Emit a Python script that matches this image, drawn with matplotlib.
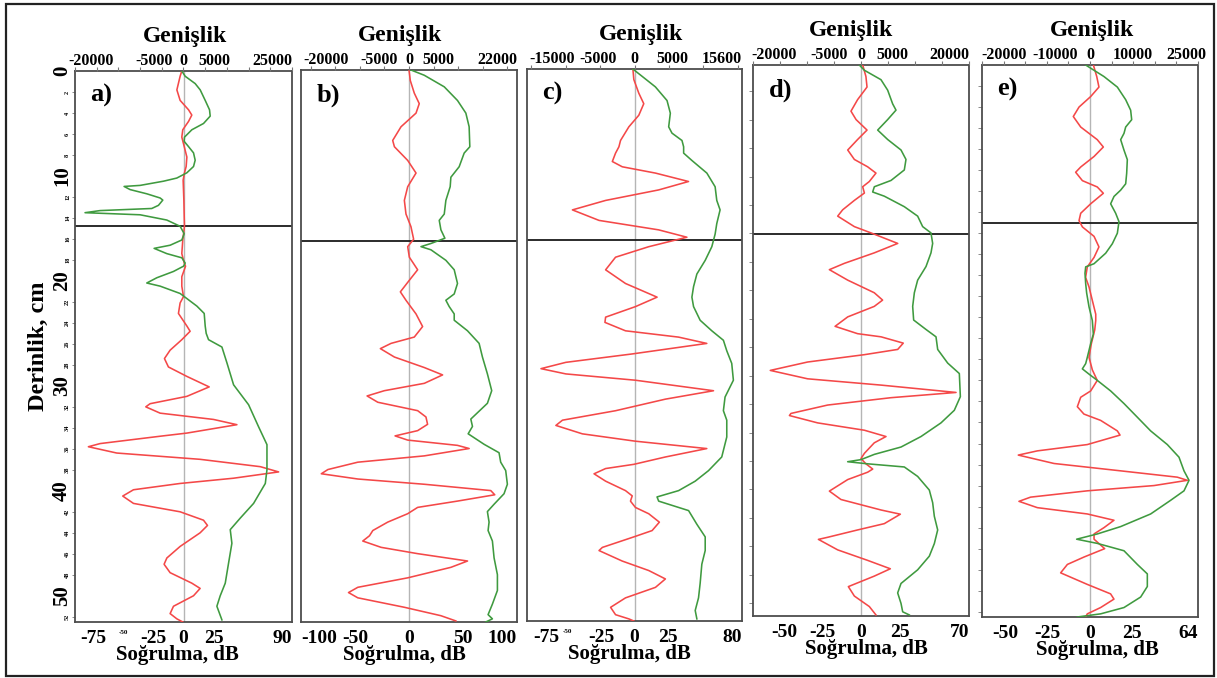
import matplotlib
matplotlib.use("Agg")
import matplotlib.pyplot as plt
import numpy as np
from matplotlib.patches import Rectangle
from matplotlib.transforms import blended_transform_factory, offset_copy

plt.rcParams['font.family'] = ['Liberation Serif', 'DejaVu Serif']
plt.rcParams['font.weight'] = 'bold'

# ---------------- data (depth cm, value) ----------------
panel_letters = ['a)', 'b)', 'c)', 'd)', 'e)']
db_limits = [90, 100, 80, 70, 64]
amp_limits = [25000, 22000, 15600, 20000, 25000]
db_ticks = [[-75, -50, -25, 0, 25, 90], [-100, -50, 0, 50, 100],
            [-75, -50, -25, 0, 25, 80], [-50, -25, 0, 25, 70], [-50, -25, 0, 25, 64]]
tiny_db_ticks = [[-50], [], [-50], [], []]
amp_ticks = [[-20000, -5000, 0, 5000, 25000], [-20000, -5000, 0, 5000, 22000],
             [-15000, -5000, 0, 5000, 15600], [-20000, -5000, 0, 5000, 20000],
             [-20000, -10000, 0, 10000, 25000]]
boundary_depths = [14.8, 16.3, 16.3, 16.1, 15.0]
depth_major = [0, 10, 20, 30, 40, 50]
depth_minor = [2, 4, 6, 8, 12, 14, 16, 18, 22, 24, 26, 28, 32, 34, 36, 38, 42, 44, 46, 48, 52]

a_red = [(0, -1.4), (0.5, -2.8), (1.8, -5.5), (2.8, -2.8), (3.7, 4.2), (4.2, 6.9), (4.8, 4.2), (5.6, -0.6),
         (6.3, -1.4), (7.2, 0.6), (8.2, 2.8), (9.1, 2.2), (9.7, 0.8), (10.4, -0.3), (12.3, 0.3), (13.9, 0.6),
         (14.8, 0.8), (16.1, -0.6), (17.4, -1.4), (18.3, 0.6), (18.6, 1.7), (19.6, -1.4), (20.5, -1.4),
         (21.5, 0.0), (22.1, -2.8), (23.1, -4.2), (24.3, 2.8), (24.8, 5.5), (25.6, -1.4), (26.6, -11.1),
         (27.4, -15.8), (28.2, -12.5), (29.1, 2.8), (30.1, 21.3), (31.0, 2.8), (31.7, -27.7), (32.0, -31.3),
         (32.6, -19.4), (33.2, 24.9), (33.7, 44.3), (34.5, 2.8), (34.8, -19.4), (35.5, -69.2), (35.8, -78.9),
         (36.4, -55.4), (37.0, 13.8), (37.7, 63.7), (38.2, 78.9), (38.8, 41.5), (39.3, -2.8), (39.9, -41.5),
         (40.5, -50.4), (41.2, -41.5), (42.0, -2.8), (42.8, 16.6), (43.3, 19.9), (44.0, 13.8), (45.3, -2.8),
         (46.4, -13.8), (47.0, -16.1), (47.8, -11.1), (48.8, 6.9), (49.3, 13.8), (50.0, 8.3), (51.0, -8.3),
         (51.7, -11.1), (52.2, -5.5), (52.5, -0.6)]
a_green = [(0, -385), (0.5, 385), (1.2, 2690), (1.8, 3850), (2.8, 5000), (3.7, 6000), (4.3, 6150), (5.0, 4615),
           (5.6, 1920), (6.3, 230), (6.7, 150), (7.2, 1150), (7.8, 2310), (8.5, 2690), (9.1, 2310), (9.7, 770),
           (10.2, -1540), (10.5, -4615), (10.9, -10000), (11.0, -13690), (11.3, -12300), (11.7, -8460),
           (12.1, -5380), (12.3, -4770), (12.8, -5770), (13.1, -7310), (13.3, -19230), (13.5, -22690),
           (13.7, -10000), (14.2, -3850), (14.8, -770), (15.5, 150), (16.1, -385), (16.6, -3080), (16.9, -6770),
           (17.4, -3850), (17.8, -385), (18.3, 385), (18.6, 0), (19.1, -2310), (19.7, -6150), (20.2, -8460),
           (20.5, -5380), (21.2, -770), (21.8, 1150), (22.4, 3080), (23.1, 4770), (24.3, 5000), (25.0, 5230),
           (25.6, 5770), (26.3, 8850), (27.8, 10000), (29.9, 11540), (31.8, 15000), (33.9, 17300),
           (35.6, 19230), (36.7, 19230), (38.0, 19230), (39.3, 18850), (41.2, 16150), (42.6, 13080),
           (43.7, 10770), (45.0, 11150), (46.9, 10380), (48.8, 9620), (50.0, 8460), (51.0, 7690), (52.3, 8850)]

b_red = [(0, 0.0), (1.0, 1.2), (2.2, 4.9), (3.2, 9.5), (4.1, 6.5), (5.4, -7.4), (6.7, -15.1), (7.3, -13.5),
         (8.6, -1.2), (9.8, 6.5), (11.1, -1.2), (12.4, -4.3), (13.7, -2.8), (14.9, 1.8), (16.1, 4.3),
         (16.8, -1.2), (17.8, 0.3), (19.0, 8.0), (20.0, 0.3), (21.1, -8.0), (21.9, -2.8), (23.2, 6.5),
         (24.4, 12.6), (25.4, 4.9), (26.0, -16.6), (26.5, -26.5), (27.3, -13.5), (28.3, 14.2), (29.0, 31.1),
         (29.8, 14.2), (30.5, -22.8), (31.0, -38.8), (31.6, -28.9), (32.4, 8.0), (33.0, 15.7), (33.7, 17.2),
         (34.3, 8.0), (34.8, -12.9), (35.2, -1.2), (35.7, 44.9), (36.0, 55.7), (36.7, 14.2), (37.3, -47.4),
         (38.0, -75.1), (38.4, -81.2), (38.9, -47.4), (39.4, 14.2), (40.0, 75.7), (40.4, 79.4), (41.0, 44.9),
         (41.6, 8.0), (42.2, -1.2), (43.0, -19.7), (43.8, -33.5), (44.3, -36.6), (44.8, -42.8), (45.4, -25.8),
         (46.0, 8.0), (46.7, 54.2), (47.3, 38.8), (48.3, -1.2), (49.2, -47.4), (49.7, -56.0), (50.2, -47.4),
         (51.1, -4.3), (51.9, 29.5), (52.4, 43.4)]
b_green = [(0, 410), (0.5, 3110), (1.6, 7180), (2.9, 9880), (4.1, 11580), (5.4, 12250), (7.3, 12390),
           (7.9, 11240), (9.2, 10220), (10.2, 8530), (11.1, 8390), (12.4, 7510), (13.7, 7180), (14.3, 6160),
           (15.2, 6500), (16.0, 7310), (16.5, 4470), (16.8, 2440), (17.1, 4470), (18.1, 7510), (19.0, 9210),
           (20.3, 9880), (21.3, 9210), (21.9, 7510), (22.5, 8190), (23.2, 9210), (23.8, 9210), (24.8, 11910),
           (26.0, 14280), (27.3, 14960), (28.9, 15970), (30.5, 16850), (31.7, 15970), (33.2, 12590),
           (33.9, 12930), (34.6, 12050), (35.6, 15300), (36.4, 18340), (37.3, 18680), (38.1, 19700),
           (39.4, 20040), (40.3, 19360), (41.3, 17330), (42.0, 15970), (43.0, 16310), (43.8, 16110),
           (44.8, 16990), (46.4, 17330), (48.0, 18010), (49.5, 18010), (50.8, 16990), (51.8, 16110),
           (52.2, 16990), (52.5, 15640)]

c_red = [(0, -1.2), (1.0, -0.5), (2.3, 3.2), (3.3, 6.9), (4.4, 3.2), (5.5, -4.2), (6.8, -10.4), (7.4, -11.6),
         (8.0, -14.1), (8.8, -16.5), (9.3, -9.1), (9.9, 15.6), (10.7, 40.2), (11.5, 18.0), (12.5, -21.5),
         (13.4, -46.2), (14.4, -26.4), (15.3, 18.0), (16.0, 39.0), (16.9, 10.6), (17.9, -14.1), (19.1, -21.5),
         (20.4, -6.7), (21.7, 16.8), (22.6, 0.7), (23.6, -21.5), (24.1, -22.0), (24.9, -6.7), (25.5, 32.8),
         (26.1, 53.8), (27.1, -1.7), (27.9, -51.1), (28.5, -69.6), (29.0, -51.1), (29.6, 0.7), (30.6, 58.8),
         (31.4, 23.0), (32.5, -14.1), (33.4, -53.6), (33.9, -58.5), (34.7, -38.8), (35.4, 0.7), (36.1, 53.8),
         (36.9, 23.0), (37.6, -0.5), (38.0, -21.5), (38.5, -30.1), (39.2, -21.5), (40.1, -6.7), (40.6, -1.7),
         (41.1, -3.0), (41.7, 0.7), (42.3, 10.6), (43.1, 18.5), (43.9, 13.1), (44.5, -0.5), (45.5, -23.9),
         (45.8, -26.4), (46.8, -9.1), (47.7, 10.6), (48.5, 23.0), (49.3, 15.6), (50.3, -6.7), (51.2, -17.8),
         (51.9, -14.1), (52.3, -4.2), (52.5, -0.5)]
c_green = [(0, -240), (0.7, 1110), (1.7, 3030), (3.0, 4720), (4.2, 5200), (5.5, 4960), (6.1, 5440), (6.8, 6890),
           (7.4, 7130), (8.0, 7130), (8.7, 8330), (9.9, 10500), (11.2, 11700), (12.5, 11940), (13.4, 12420),
           (14.7, 11940), (15.7, 11700), (16.9, 11220), (18.2, 10260), (19.5, 9050), (20.7, 8570),
           (21.7, 8330), (22.6, 8570), (23.9, 9530), (24.9, 11220), (25.8, 12900), (26.8, 13390),
           (28.0, 14110), (29.6, 14350), (31.2, 13140), (32.5, 12900), (33.4, 13390), (35.0, 13390),
           (36.9, 12660), (38.2, 10740), (39.2, 8810), (40.1, 6400), (40.7, 3270), (41.1, 3510), (42.0, 7850),
           (43.3, 9050), (44.5, 10260), (45.8, 10260), (47.1, 9770), (48.9, 9530), (50.3, 9290),
           (51.5, 8810), (52.3, 9050)]

d_red = [(0, 1.1), (1.1, 3.2), (2.1, 3.9), (3.3, -2.2), (4.4, -6.5), (5.2, -3.2), (6.2, 3.9), (7.1, -2.2),
         (8.1, -8.6), (9.0, -4.3), (9.7, 4.3), (10.3, 9.7), (11.1, 5.4), (11.6, 1.1), (12.2, 2.2), (12.9, -4.3),
         (13.8, -11.9), (14.4, -15.1), (15.4, -4.3), (16.0, 6.5), (17.0, 23.8), (17.9, 8.6), (18.9, -10.8),
         (19.5, -20.5), (20.5, -8.6), (21.7, 8.6), (22.4, 14.0), (23.0, 8.6), (24.0, -8.6), (24.9, -16.8),
         (25.6, -2.2), (25.9, 13.0), (26.5, 27.4), (27.1, 23.8), (27.6, 2.2), (28.3, -34.6), (29.1, -58.8),
         (29.9, -34.6), (30.5, 13.0), (31.2, 61.6), (31.7, 19.4), (32.4, -21.6), (33.2, -45.4), (33.4, -46.4),
         (34.1, -28.1), (34.8, 2.2), (35.4, 16.2), (36.0, 8.6), (37.0, 2.2), (37.5, 0.0), (38.0, 3.2),
         (38.5, 7.6), (38.8, 4.3), (39.5, -8.6), (40.6, -20.5), (41.4, -13.0), (42.4, 13.0), (42.8, 25.5),
         (43.7, 15.1), (44.3, -2.2), (45.0, -21.6), (45.2, -27.6), (46.2, -15.1), (47.2, 4.3), (48.0, 19.0),
         (48.7, 8.6), (49.7, -8.2), (50.6, -4.3), (51.6, 5.4), (52.4, 9.7)]
d_green = [(0, -310), (0.5, 620), (1.4, 3700), (2.4, 4940), (3.7, 5860), (4.3, 6480), (5.2, 4940), (6.2, 3090),
           (7.1, 4940), (8.1, 7410), (9.0, 8330), (10.0, 8020), (11.0, 5560), (11.6, 2470), (12.1, 2160),
           (12.5, 4320), (13.5, 8020), (14.4, 10490), (15.4, 11420), (16.0, 12960), (17.0, 13270),
           (17.9, 12960), (19.2, 12040), (20.5, 10490), (21.7, 9880), (23.0, 9570), (24.3, 9750),
           (25.2, 12040), (25.9, 13890), (27.1, 14200), (28.4, 16050), (29.4, 18210), (31.6, 18400),
           (32.9, 17280), (34.1, 14810), (35.4, 11110), (36.4, 7410), (37.1, 2470), (37.6, 0), (37.8, -2470),
           (38.0, 1230), (38.3, 8020), (39.2, 10490), (40.5, 12650), (41.7, 13270), (43.0, 13580),
           (44.3, 14200), (45.6, 13580), (46.8, 12650), (48.1, 10490), (49.4, 7410), (50.3, 6790),
           (51.3, 7410), (52.1, 7720), (52.4, 8950)]

e_red = [(0, 2.0), (1.1, 4.0), (2.1, 5.3), (3.0, 0.4), (4.0, -6.5), (4.9, -9.9), (5.9, -5.5), (7.1, 4.3),
         (7.8, 7.9), (8.7, 2.4), (9.7, -5.5), (10.2, -8.5), (11.0, -4.5), (11.6, 4.3), (12.2, 7.9), (13.2, 0.4),
         (14.1, -5.5), (14.8, -6.5), (15.4, -4.5), (16.3, 2.4), (17.3, 5.3), (18.3, 2.4), (19.2, -1.6),
         (20.2, -2.6), (21.1, -0.6), (22.4, 1.4), (23.7, 3.4), (24.3, 3.4), (25.2, 2.8), (26.5, 0.8),
         (27.8, -0.6), (29.0, 1.4), (30.0, 4.3), (31.0, 0.4), (31.6, -5.5), (32.5, -7.5), (33.2, -3.6),
         (33.8, 6.3), (34.8, 16.2), (35.2, 17.8), (36.1, -1.6), (36.7, -31.2), (37.1, -42.5), (37.9, -21.3),
         (38.6, 18.2), (39.2, 51.7), (39.5, 57.7), (40.0, 37.9), (40.5, -1.6), (41.1, -35.2), (41.5, -42.1),
         (42.1, -31.2), (42.7, -1.6), (43.3, 14.2), (44.0, 8.3), (44.6, 2.4), (45.1, 2.4), (46.0, 8.7),
         (46.8, -3.6), (47.5, -13.4), (48.3, -17.4), (49.4, -1.6), (50.3, 12.2), (50.8, 14.2), (51.6, 6.3),
         (52.2, -1.6), (52.5, -2.6)]
e_green = [(0, -1000), (0.3, 150), (1.1, 3240), (2.1, 6330), (3.3, 8260), (4.3, 9410), (5.2, 9650), (5.9, 8260),
           (6.5, 7870), (7.1, 7100), (8.1, 7870), (9.0, 8640), (10.3, 8490), (11.3, 8260), (11.9, 7100),
           (12.5, 5560), (13.2, 4780), (14.1, 5940), (14.9, 6710), (16.0, 6330), (17.0, 5170), (17.9, 3630),
           (18.9, 930), (19.2, -1000), (19.8, -1160), (20.8, -1000), (21.7, -770), (23.0, -230), (24.3, 540),
           (25.6, 770), (26.5, 150), (27.8, -620), (28.4, -1000), (28.9, -1770), (29.4, -230), (30.0, 1700),
           (31.0, 4780), (32.2, 7870), (33.5, 10960), (34.8, 14040), (36.1, 17900), (37.3, 20600),
           (38.6, 21760), (39.5, 22920), (40.5, 21760), (41.4, 18670), (42.7, 14040), (43.9, 7100),
           (44.6, 1700), (45.1, -3090), (45.5, 1700), (46.2, 7870), (47.5, 10960), (48.4, 13270),
           (49.6, 13270), (50.6, 11730), (51.6, 7870), (52.2, 2470), (52.5, -2930)]

red_series = [a_red, b_red, c_red, d_red, e_red]
green_series = [a_green, b_green, c_green, d_green, e_green]

# ---------------- layout / style ----------------
W, H = 1217, 678
boxes = [(75, 71, 292, 622), (301, 70, 517, 622), (527, 69, 742, 621), (753, 65, 969, 616), (982, 65, 1198, 617)]
amp_label_ha = [['center', 'center', 'center', 'center', 'right'],
                ['left', 'center', 'center', 'center', 'right'],
                ['left', 'center', 'center', 'center', 'right'],
                ['left', 'center', 'center', 'center', 'right'],
                ['center', 'center', 'center', 'center', 'right']]
amp_label_dx = [[-6, -8, 0, 9, 0], [-7, -5, 0, 5, 0], [-2, -2, 0, 3, 0], [-2, -5, 0, 4, 0], [0, 8, 0, 0, 8]]
first_db_ha = ['center', 'left', 'left', 'center', 'center']
title_dx = [2, -9, 7, -10, 2]
xlabel_dx = [-6, -5, -5, 5, 7]
DEPTH_MAX = 52.5
RED = '#f44848'
GREEN = '#3f9a3f'
FRAME = '#4d4d4d'

fig = plt.figure(figsize=(W / 100, H / 100), dpi=100)

for i in range(5):
    l, t, r, b = boxes[i]
    ax = fig.add_axes([l / W, 1 - b / H, (r - l) / W, (b - t) / H])
    R = db_limits[i]
    G = amp_limits[i]
    ax.set_xlim(-R, R)
    ax.set_ylim(DEPTH_MAX, 0)
    ax.axvline(0, color='#b5b5b5', lw=1.0, zorder=1)
    ax.axhline(boundary_depths[i], color='#1a1a1a', lw=1.3, zorder=2)

    rd, rv = zip(*red_series[i])
    ax.plot(rv, rd, color=RED, lw=1.15, zorder=4, solid_joinstyle='round')

    axt = ax.twiny()
    axt.set_xlim(-G, G)
    gd, gv = zip(*green_series[i])
    axt.plot(gv, gd, color=GREEN, lw=1.15, zorder=3, solid_joinstyle='round')
    for s in axt.spines.values():
        s.set_visible(False)
    for s in ax.spines.values():
        s.set_color(FRAME)
        s.set_linewidth(1.3)

    # bottom axis (Soğrulma)
    ax.set_xticks(db_ticks[i])
    ax.set_xticklabels([str(v) for v in db_ticks[i]])
    ax.tick_params(axis='x', bottom=True, top=False, length=0, pad=6, labelsize=14)
    lbls = ax.get_xticklabels()
    for v, lb in zip(db_ticks[i], lbls):
        if v in tiny_db_ticks[i]:
            lb.set_fontsize(5)
    lbls[0].set_horizontalalignment(first_db_ha[i])
    lbls[-1].set_horizontalalignment('right')
    ax.text(0.5, 0, 'Soğrulma, dB', fontsize=15, fontweight='bold', ha='center', va='baseline',
            transform=offset_copy(ax.transAxes, fig=fig, x=xlabel_dx[i], y=-38, units='dots'))

    # top axis (Genişlik)
    axt.set_xticks(np.arange(-G + (G % 5000), G + 1, 5000))
    axt.set_xticklabels([])
    axt.tick_params(axis='x', which='both', top=True, bottom=False, direction='out',
                    length=3, width=0.8, color='#777777')
    top_tr = blended_transform_factory(axt.transData, axt.transAxes)
    for v, ha, dx in zip(amp_ticks[i], amp_label_ha[i], amp_label_dx[i]):
        axt.text(v, 1, str(v), fontsize=11.5, fontweight='bold', ha=ha, va='baseline',
                 transform=offset_copy(top_tr, fig=fig, x=dx, y=6, units='dots'), clip_on=False)
    ax.text(0.5, 1, 'Genişlik', fontsize=17, fontweight='bold', ha='center', va='baseline',
            transform=offset_copy(ax.transAxes, fig=fig, x=title_dx[i], y=29, units='dots'))

    # depth axis
    if i == 0:
        ax.set_yticks(depth_major)
        ax.set_yticklabels([str(v) for v in depth_major], rotation=90, fontsize=15, va='center')
        ax.set_yticks(depth_minor, minor=True)
        ax.set_yticklabels([str(v) for v in depth_minor], minor=True, rotation=90, fontsize=4.5, va='center')
        ax.tick_params(axis='y', which='major', length=0, pad=2)
        ax.tick_params(axis='y', which='minor', length=2.5, width=0.6, color='#777777', pad=1)
        ax.set_ylabel('Derinlik, cm', fontsize=17.5, fontweight='bold', labelpad=2)
    elif i == 3:
        ax.set_yticks(np.arange(2.5, DEPTH_MAX, 2.71))
        ax.set_yticklabels([])
        ax.tick_params(axis='y', length=3, width=0.6, color='#777777')
    elif i == 4:
        ax.set_yticks(np.arange(2, DEPTH_MAX, 2))
        ax.set_yticklabels([])
        ax.tick_params(axis='y', length=3, width=0.6, color='#777777')
    else:
        ax.set_yticks([])

    ax.text(0.072, 0.976, panel_letters[i], transform=ax.transAxes, fontsize=19,
            fontweight='bold', ha='left', va='top', zorder=6)

fig.patches.append(Rectangle((6 / W, 1 - 676 / H), 1208 / W, 672 / H, transform=fig.transFigure,
                             fill=False, lw=1.6, ec='#222222'))

fig.savefig('out.png', dpi=100)
